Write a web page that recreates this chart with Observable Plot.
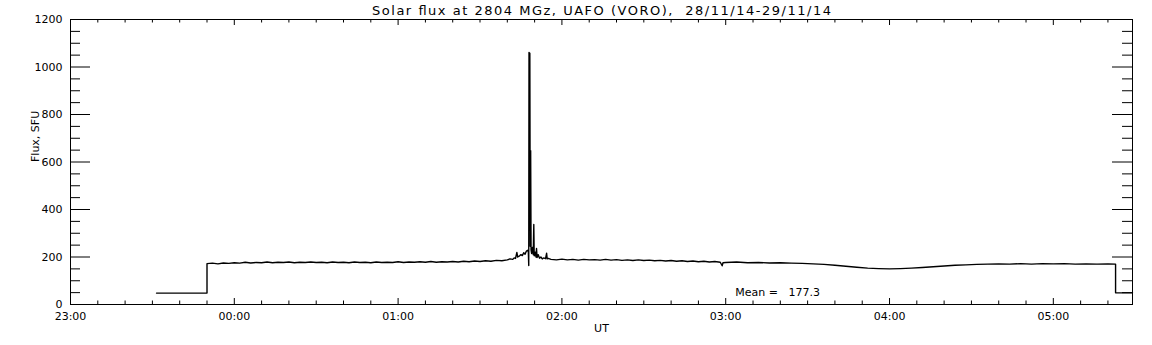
<!DOCTYPE html>
<html><head><meta charset="utf-8">
<script src="https://cdn.jsdelivr.net/npm/d3@7"></script>
<script src="https://cdn.jsdelivr.net/npm/@observablehq/plot@0.6"></script>
<style>
body{margin:0;background:#fff}
svg{display:block}
svg text{white-space:pre}
</style>
</head><body><div id="chart"></div>
<script>
const title = "Solar flux at 2804 MGz, UAFO (VORO),  28/11/14-29/11/14";
const xLabel = "UT";
const yLabel = "Flux, SFU";
const meanText = "Mean =   177.3";
const meanPos = {t: 243.5, f: 50};

// minutes since 23:00 UT
const timeMin = [
  31.5, 50, 50,
  52, 54, 56, 58, 60, 62, 64, 66, 68, 70, 72, 74, 76, 78, 80, 82, 84, 86, 88, 90,
  92, 94, 96, 98, 100, 102, 104, 106, 108, 110, 112, 114, 116, 118, 120, 122, 124, 126,
  128, 130, 132, 134, 136, 138, 140, 142, 144, 146, 148, 150, 152, 154, 156, 158, 160,
  161, 162, 162.5, 163, 163.5, 163.8, 164.5, 165, 165.5, 166, 166.5, 167, 167.4, 167.7,
  167.85, 167.95, 168.1, 168.25, 168.4, 168.55, 168.7, 168.9, 169.2, 169.5, 169.7, 169.85, 170.2,
  170.5, 170.7, 170.9, 171.3, 171.8, 172.3, 172.8, 173.3, 174, 174.4, 174.6, 175, 176,
  178, 180, 182, 184, 186, 188, 190, 192, 194, 196, 198, 200, 202, 204, 206, 208, 210,
  212, 214, 216, 218, 220, 222, 224, 226, 228, 230, 232, 234, 236, 238, 238.7, 239,
  240, 244, 248, 252, 256, 260, 264, 268, 272, 276, 280, 284, 288, 292, 296, 300, 304,
  308, 312, 316, 320, 324, 328, 332, 336, 340, 344, 348, 352, 356, 360, 364, 368, 372,
  376, 380, 382.8, 382.8, 389
];
const flux = [
  48, 48, 172,
  174, 171, 175, 173, 176, 174, 178, 175, 177, 176, 179, 176, 178, 177, 179, 176, 178, 177, 179, 177,
  178, 176, 179, 177, 178, 176, 179, 177, 178, 176, 179, 177, 178, 177, 180, 177, 179, 178,
  180, 178, 181, 178, 180, 179, 181, 179, 182, 180, 183, 181, 184, 182, 186, 184, 188,
  192, 190, 196, 194, 219, 200, 205, 210, 206, 218, 212, 225, 228, 222,
  164, 1061, 1020, 1058, 245, 648, 230, 215, 240, 210, 337, 205, 220,
  200, 236, 198, 210, 195, 200, 192, 196, 193, 216, 192, 194, 190,
  188, 191, 188, 190, 187, 190, 188, 189, 187, 190, 187, 189, 186, 188, 185, 188, 185,
  187, 184, 186, 183, 185, 182, 184, 181, 183, 180, 182, 179, 181, 178, 163, 176,
  177, 179, 176, 177, 175, 176, 174, 173, 171, 169, 165, 161, 157, 153, 151, 150, 151,
  153, 156, 159, 162, 165, 167, 169, 170, 171, 170, 172, 170, 172, 171, 172, 170, 171,
  170, 171, 170, 49, 49
];

const xTickMinutes = [0, 60, 120, 180, 240, 300, 360];
const xTickLabels = ["23:00", "00:00", "01:00", "02:00", "03:00", "04:00", "05:00"];
const xMinorMinutes = d3.range(0, 390, 10).filter(m => m % 60 !== 0);
const yTicks = [0, 200, 400, 600, 800, 1000, 1200];
const yMinor = d3.range(50, 1200, 50).filter(v => v % 200 !== 0);

const data = timeMin.map((t, i) => ({t, f: flux[i]}));

const W = 1152, H = 345, mL = 70, mR = 20, mT = 19, mB = 41;
const iW = W - mL - mR, iH = H - mT - mB;
const font = "DejaVu Sans, sans-serif";

const chart = Plot.plot({
  width: W, height: H,
  marginLeft: mL, marginRight: mR, marginTop: mT, marginBottom: mB,
  style: {fontFamily: font, fontSize: "11px", color: "black", background: "white"},
  x: {domain: [0, 389]},
  y: {domain: [0, 1200]},
  marks: [
    Plot.frame({stroke: "black", strokeWidth: 1}),
    // y ticks left and right (inward)
    Plot.tickY(yTicks, {y: d => d, insetRight: iW - 20, stroke: "black"}),
    Plot.tickY(yTicks, {y: d => d, insetLeft: iW - 20, stroke: "black"}),
    Plot.tickY(yMinor, {y: d => d, insetRight: iW - 10, stroke: "black"}),
    Plot.tickY(yMinor, {y: d => d, insetLeft: iW - 10, stroke: "black"}),
    // x ticks bottom and top (inward)
    Plot.tickX(xTickMinutes, {x: d => d, insetTop: iH - 6, stroke: "black"}),
    Plot.tickX(xTickMinutes, {x: d => d, insetBottom: iH - 6, stroke: "black"}),
    Plot.tickX(xMinorMinutes, {x: d => d, insetTop: iH - 3.5, stroke: "black"}),
    Plot.tickX(xMinorMinutes, {x: d => d, insetBottom: iH - 3.5, stroke: "black"}),
    Plot.axisX({ticks: xTickMinutes, tickSize: 0, tickPadding: 8,
      tickFormat: d => xTickLabels[xTickMinutes.indexOf(d)], label: null, fontSize: 11}),
    Plot.axisY({ticks: yTicks, tickSize: 0, tickPadding: 8, tickFormat: d => String(d), label: null, fontSize: 11}),
    Plot.line(data, {x: "t", y: "f", stroke: "black", strokeWidth: 1.4}),
    Plot.text([meanText], {x: meanPos.t, y: meanPos.f, text: d => d, textAnchor: "start", fontSize: 11}),
    Plot.text([title], {frameAnchor: "top", lineAnchor: "middle", dy: -9, text: d => d, fontSize: 13, className: "ttl"}),
    Plot.text([xLabel], {frameAnchor: "bottom", lineAnchor: "middle", dy: 24, text: d => d, fontSize: 11}),
    Plot.text([yLabel], {frameAnchor: "left", lineAnchor: "middle", dx: -35, rotate: -90, text: d => d, fontSize: 11})
  ]
});
document.getElementById("chart").appendChild(chart);
d3.select(chart).selectAll(".ttl text").attr("textLength", 459).attr("lengthAdjust", "spacing");
</script>
</body></html>
